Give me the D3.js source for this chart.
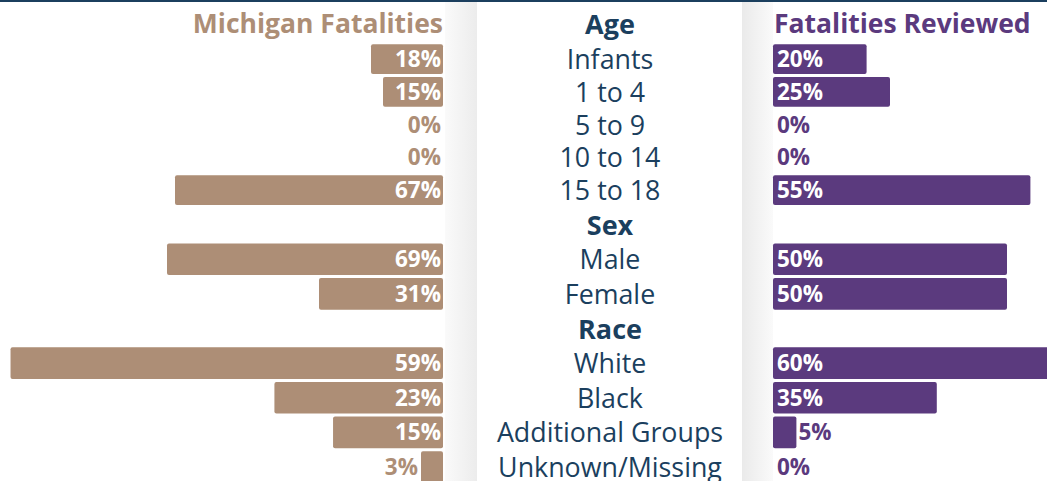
<!DOCTYPE html>
<html>
<head>
<meta charset="utf-8">
<script src="https://cdn.jsdelivr.net/npm/d3@7"></script>
<style>
  html, body { margin: 0; padding: 0; background: #fff; }
  svg { display: block; font-family: 'Open Sans', sans-serif; }
</style>
</head>
<body>
<svg width="1047" height="481"></svg>
<script>
// chart data
const sections = ['Age', 'Sex', 'Race'];
const categories = [
  ['Infants', '1 to 4', '5 to 9', '10 to 14', '15 to 18'],
  ['Male', 'Female'],
  ['White', 'Black', 'Additional Groups', 'Unknown/Missing'],
];
const michigan = [[18, 15, 0, 0, 67], [69, 31], [59, 23, 15, 3]];
const reviewed = [[20, 25, 0, 0, 55], [50, 50], [60, 35, 5, 0]];
const seriesNames = ['Michigan Fatalities', 'Fatalities Reviewed'];

const W = 1047, H = 481;
const tan = '#ad8e76', purple = '#5b3a7e', navy = '#1b3f5e';
const leftEdge = 443, rightEdge = 773, centerX = 610;

const svg = d3.select('svg');

// flatten into rows (headers + categories)
const rows = [];
sections.forEach((s, si) => {
  rows.push({ header: true, label: s, si });
  categories[si].forEach((c, ci) => {
    rows.push({ header: false, label: c, si, left: michigan[si][ci], right: reviewed[si][ci] });
  });
});
rows.forEach((d, i) => { d.i = i; });

// rows in the age block sit a little tighter than the rest
const y = d3.scaleLinear().domain([0, 1, 5, rows.length - 1]).range([24, 59, 190, 467]);
const barH = i => Math.min(y(i + 1) - y(i), y(i) - y(i - 1)) - 3;

// left bars use a different scale for the race block, as in the original
const leftScales = [
  d3.scaleLinear().domain([0, 100]).range([0, 400]),
  d3.scaleLinear().domain([0, 100]).range([0, 400]),
  d3.scaleLinear().domain([0, 100]).range([0, 733]),
];
const xRight = d3.scaleLinear().domain([0, 100]).range([0, 468]);

// panel shadows
const defs = svg.append('defs');
const gl = defs.append('linearGradient').attr('id', 'shL');
gl.append('stop').attr('offset', '0%').attr('stop-color', '#fafafa');
gl.append('stop').attr('offset', '100%').attr('stop-color', '#ececec');
const gr = defs.append('linearGradient').attr('id', 'shR');
gr.append('stop').attr('offset', '0%').attr('stop-color', '#eaeaea');
gr.append('stop').attr('offset', '100%').attr('stop-color', '#fafafa');

svg.append('rect').attr('x', 445).attr('y', 0).attr('width', 32).attr('height', H).attr('fill', 'url(#shL)');
svg.append('rect').attr('x', 742).attr('y', 0).attr('width', 31).attr('height', H).attr('fill', 'url(#shR)');

// top rule
svg.append('rect').attr('x', 0).attr('y', 0).attr('width', W).attr('height', 2).attr('fill', navy);

// series titles
svg.append('text')
  .attr('x', leftEdge).attr('y', y(0) + 9)
  .attr('text-anchor', 'end')
  .attr('font-size', 26.5).attr('font-weight', 700).attr('fill', tan)
  .text(seriesNames[0]);
svg.append('text')
  .attr('x', rightEdge + 1).attr('y', y(0) + 9)
  .attr('font-size', 26.5).attr('font-weight', 700).attr('fill', purple)
  .text(seriesNames[1]);

// center labels
svg.append('g').selectAll('text')
  .data(rows)
  .join('text')
  .attr('x', centerX)
  .attr('y', d => y(d.i) + 10)
  .attr('text-anchor', 'middle')
  .attr('font-size', d => (d.header ? 27 : 26.8))
  .attr('font-weight', d => (d.header ? 700 : 400))
  .attr('fill', navy)
  .text(d => d.label);

const dataRows = rows.filter(d => !d.header);
const fs = 22.5;

// left bars
const lg = svg.append('g');
lg.selectAll('rect')
  .data(dataRows.filter(d => d.left > 0))
  .join('rect')
  .attr('x', d => leftEdge - leftScales[d.si](d.left))
  .attr('y', d => y(d.i) - barH(d.i) / 2)
  .attr('width', d => leftScales[d.si](d.left))
  .attr('height', d => barH(d.i))
  .attr('rx', 2)
  .attr('fill', tan);
lg.selectAll('text')
  .data(dataRows)
  .join('text')
  .attr('x', (d) => {
    const w = leftScales[d.si](d.left);
    return w > 0 && w < 45 ? leftEdge - w - 3 : leftEdge - 2;
  })
  .attr('y', d => y(d.i) + 8)
  .attr('text-anchor', 'end')
  .attr('font-size', fs).attr('font-weight', 700)
  .attr('fill', d => (leftScales[d.si](d.left) >= 45 ? '#fff' : tan))
  .text(d => `${d.left}%`);

// right bars
const rg = svg.append('g');
rg.selectAll('rect')
  .data(dataRows.filter(d => d.right > 0))
  .join('rect')
  .attr('x', rightEdge)
  .attr('y', d => y(d.i) - barH(d.i) / 2)
  .attr('width', d => xRight(d.right))
  .attr('height', d => barH(d.i))
  .attr('rx', 2)
  .attr('fill', purple);
rg.selectAll('text')
  .data(dataRows)
  .join('text')
  .attr('x', (d) => {
    const w = xRight(d.right);
    return w > 0 && w < 45 ? rightEdge + w + 2 : rightEdge + 4;
  })
  .attr('y', d => y(d.i) + 8)
  .attr('font-size', fs).attr('font-weight', 700)
  .attr('fill', d => (xRight(d.right) >= 45 ? '#fff' : purple))
  .text(d => `${d.right}%`);
</script>
</body>
</html>
